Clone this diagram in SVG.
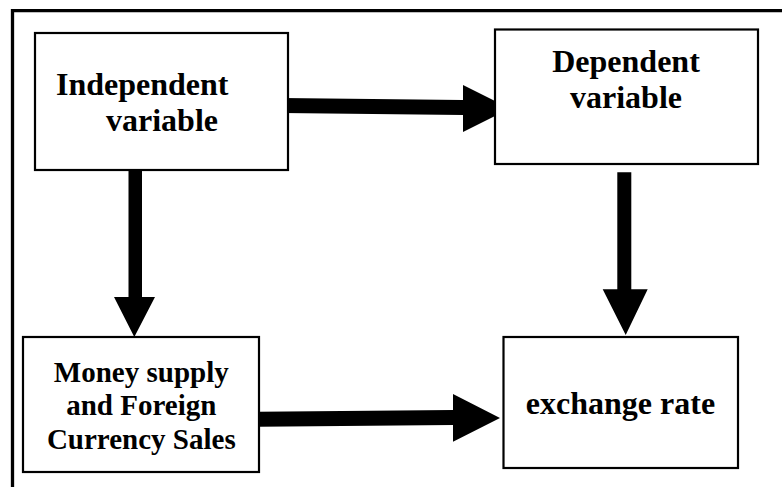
<svg xmlns="http://www.w3.org/2000/svg" width="782" height="487" viewBox="0 0 782 487">
<style>
.box{fill:#fff;stroke:#000;stroke-width:2.2}
.t{font-family:"Liberation Serif","Times New Roman",serif;font-weight:bold;fill:#000}
.frame{fill:none;stroke:#000;stroke-width:3.3}
.arr{fill:#000}
</style>
<rect width="782" height="487" fill="#fff"/>
<path class="frame" d="M12.5,487 V10.7 H782"/>
<g id="connectors">
<polygon class="arr" points="282,98 463,100 463,85 510,108.5 463,132 463,115 282,113"/>
<polygon class="arr" points="128.5,170 142,170 142,297 155,297 134.3,337 114,297 128.5,297"/>
<polygon class="arr" points="617.3,172.3 631.3,172.3 631.3,289.3 647.7,289.3 625.7,335 602.7,289.3 617.3,289.3"/>
<polygon class="arr" points="259,411.7 453,410 453,394 500,418 453,441.7 453,425 259,426.7"/>
</g>
<g id="independent">
<rect class="box" x="35" y="33" width="253" height="137"/>
<text class="t" font-size="32" x="56" y="95">Independent</text>
<text class="t" font-size="32" x="162" y="131" text-anchor="middle">variable</text>
</g>
<g id="dependent">
<rect class="box" x="495" y="29.5" width="263" height="134.5"/>
<text class="t" font-size="32" x="626" y="72" text-anchor="middle">Dependent</text>
<text class="t" font-size="32" x="626" y="108" text-anchor="middle">variable</text>
</g>
<g id="money">
<rect class="box" x="23" y="337" width="236" height="135"/>
<text class="t" font-size="29" x="141.3" y="381.5" text-anchor="middle">Money supply</text>
<text class="t" font-size="29" x="141.3" y="415" text-anchor="middle">and Foreign</text>
<text class="t" font-size="29" x="141.3" y="449" text-anchor="middle">Currency Sales</text>
</g>
<g id="exchange">
<rect class="box" x="503.5" y="337" width="234.5" height="131"/>
<text class="t" font-size="32" x="620.5" y="414" text-anchor="middle">exchange rate</text>
</g>
</svg>
